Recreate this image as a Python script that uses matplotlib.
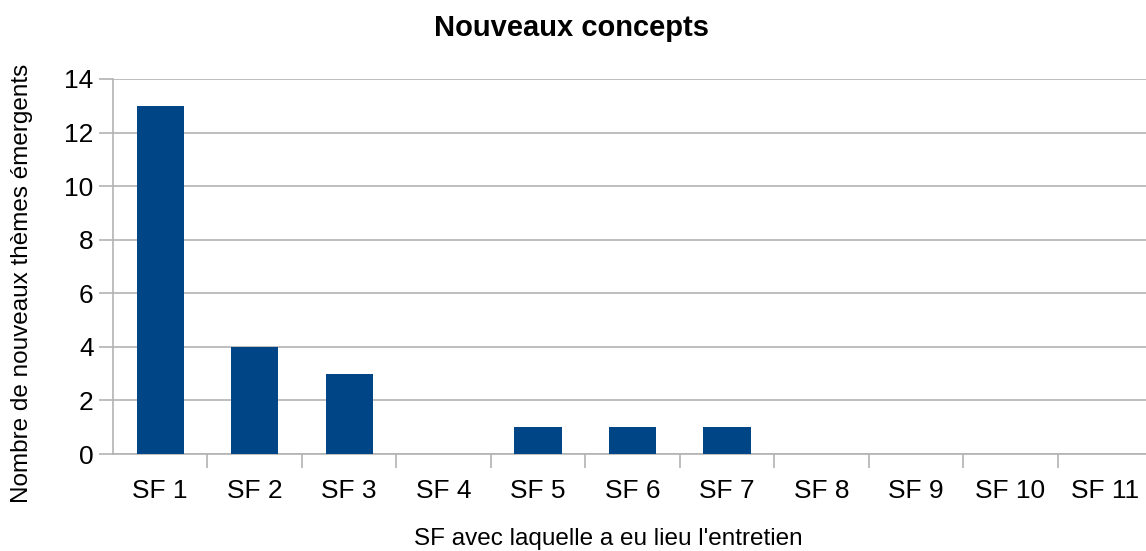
import matplotlib.pyplot as plt

categories = ["SF 1", "SF 2", "SF 3", "SF 4", "SF 5", "SF 6", "SF 7", "SF 8", "SF 9", "SF 10", "SF 11"]
values = [13, 4, 3, 0, 1, 1, 1, 0, 0, 0, 0]
yticks = [0, 2, 4, 6, 8, 10, 12, 14]

plt.rcParams['font.family'] = ['Liberation Sans', 'DejaVu Sans']

fig = plt.figure(figsize=(11.46, 5.51), dpi=100, facecolor='white')
ax = fig.add_axes([113 / 1146, 97 / 551, 1039 / 1146, 375 / 551])

x = list(range(len(categories)))
ax.bar(x, values, width=0.5, color='#004586', zorder=3)

ax.set_xlim(-0.5, len(categories) - 0.5)
ax.set_ylim(0, 14)
ax.set_yticks(yticks)
ax.set_yticklabels([str(v) for v in yticks], fontsize=19)
ax.yaxis.grid(True, color='#b3b3b3', linewidth=1.2, zorder=0)

# ticks at category boundaries, labels in the middle
ax.set_xticks([i + 0.5 for i in range(len(categories) - 1)])
ax.set_xticklabels([])
ax.set_xticks(x, minor=True)
ax.set_xticklabels(categories, minor=True, fontsize=19)
ax.tick_params(axis='x', which='minor', length=0, pad=18)
ax.tick_params(axis='x', which='major', length=10, color='#b3b3b3', width=1.2)
ax.tick_params(axis='y', length=10, color='#b3b3b3', width=1.2, pad=4)

for side in ['top', 'right']:
    ax.spines[side].set_visible(False)
for side in ['left', 'bottom']:
    ax.spines[side].set_color('#b3b3b3')
    ax.spines[side].set_linewidth(1.2)

ax.set_xlabel("SF avec laquelle a eu lieu l'entretien", fontsize=17.5)
ax.xaxis.set_label_coords(0.477, -0.198)
ax.set_ylabel("Nombre de nouveaux thèmes émergents", fontsize=17.5)
ax.yaxis.set_label_coords(-0.077, 0.456)
fig.suptitle("Nouveaux concepts", fontsize=21, fontweight='bold', x=571 / 1146, y=0.975)

fig.savefig("out.png", dpi=100)
